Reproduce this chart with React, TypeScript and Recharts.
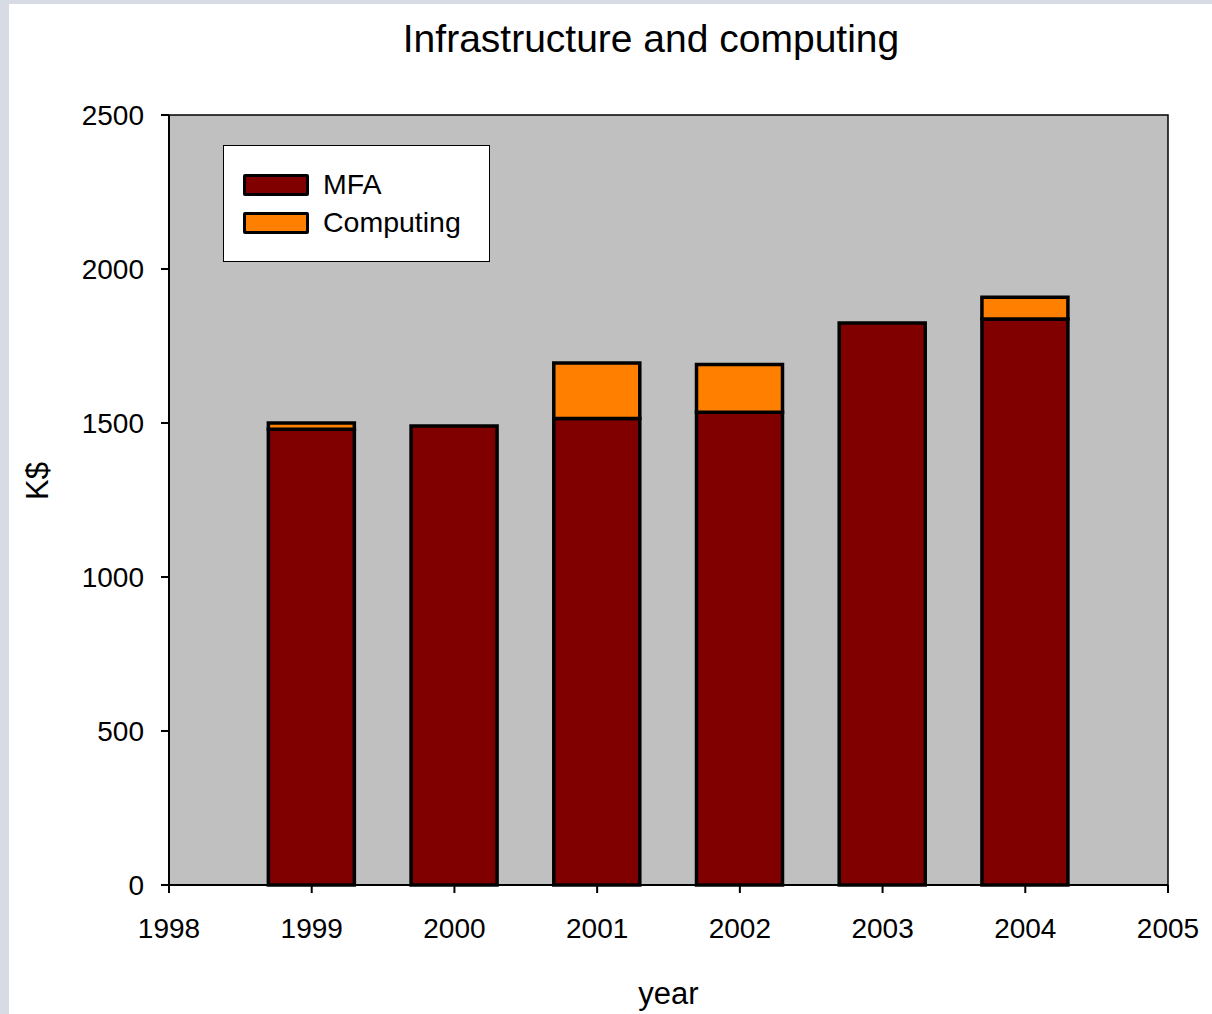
import { BarChart, Bar, XAxis, YAxis, ReferenceArea } from 'recharts';

const YEARS = [1999, 2000, 2001, 2002, 2003, 2004];
const MFA = [1480, 1490, 1515, 1535, 1825, 1838];
const COMPUTING = [20, 0, 180, 155, 0, 70];
const X_TICKS = [1998, 1999, 2000, 2001, 2002, 2003, 2004, 2005];
const Y_TICKS = [0, 500, 1000, 1500, 2000, 2500];

const data = YEARS.map((year, i) => ({ year, mfa: MFA[i], computing: COMPUTING[i] }));

const FONT = 'Arial, "Liberation Sans", sans-serif';
const MAROON = '#800000';
const ORANGE = '#ff8000';

function LegendBox() {
  const row = (color: string, label: string) => (
    <div style={{ display: 'flex', alignItems: 'center', height: 38 }}>
      <div style={{ width: 60, height: 16, background: color, border: '3px solid #000', borderRadius: 2, marginRight: 14 }} />
      <span style={{ fontSize: 28.5, color: '#000', fontFamily: FONT }}>{label}</span>
    </div>
  );
  return (
    <div style={{
      position: 'absolute', left: 223, top: 145, width: 267, height: 117, background: '#fff', border: '1px solid #000',
      boxSizing: 'border-box', paddingLeft: 19, display: 'flex', flexDirection: 'column', justifyContent: 'center',
    }}>
      {row(MAROON, 'MFA')}
      {row(ORANGE, 'Computing')}
    </div>
  );
}

export default function App() {
  return (
    <div style={{ position: 'absolute', left: 0, top: 0, width: 1212, height: 1014, background: '#d7dce4', overflow: 'hidden' }}>
      <div style={{ position: 'absolute', left: 9, top: 4, width: 1203, height: 1010, background: '#fff' }} />
      <div style={{ position: 'absolute', left: 0, top: 0 }}>
        <BarChart width={1212} height={1014} data={data} margin={{ top: 115, right: 44, left: 0, bottom: 0 }}>
          <XAxis
            dataKey="year" type="number" domain={[1998, 2005]} ticks={X_TICKS} allowDataOverflow
            axisLine={{ stroke: '#000', strokeWidth: 2 }} tickLine={{ stroke: '#000', strokeWidth: 2 }}
            tickSize={8} tickMargin={25} height={129}
            tick={{ fontSize: 28, fill: '#000', fontFamily: FONT }}
            label={{ value: 'year', position: 'insideBottom', offset: 10, fontSize: 31, fill: '#000', fontFamily: FONT }}
          />
          <YAxis
            domain={[0, 2500]} ticks={Y_TICKS} width={169}
            axisLine={{ stroke: '#000', strokeWidth: 2 }} tickLine={{ stroke: '#000', strokeWidth: 2 }}
            tickSize={8} tickMargin={17}
            tick={{ fontSize: 28, fill: '#000', fontFamily: FONT }}
            label={{ value: 'K$', angle: -90, position: 'insideLeft', offset: 37, fontSize: 31, fill: '#000', fontFamily: FONT }}
          />
          <ReferenceArea x1={1998} x2={2005} y1={0} y2={2500} fill="#c0c0c0" fillOpacity={1} stroke="#000" strokeWidth={1.5} />
          <Bar dataKey="mfa" stackId="a" fill={MAROON} stroke="#000" strokeWidth={3.5} barSize={86} isAnimationActive={false} />
          <Bar dataKey="computing" stackId="a" fill={ORANGE} stroke="#000" strokeWidth={3.5} barSize={86} isAnimationActive={false} />
          <text x={651} y={52} textAnchor="middle" fontSize={39} fontFamily={FONT} fill="#000">Infrastructure and computing</text>
        </BarChart>
      </div>
      <LegendBox />
    </div>
  );
}
